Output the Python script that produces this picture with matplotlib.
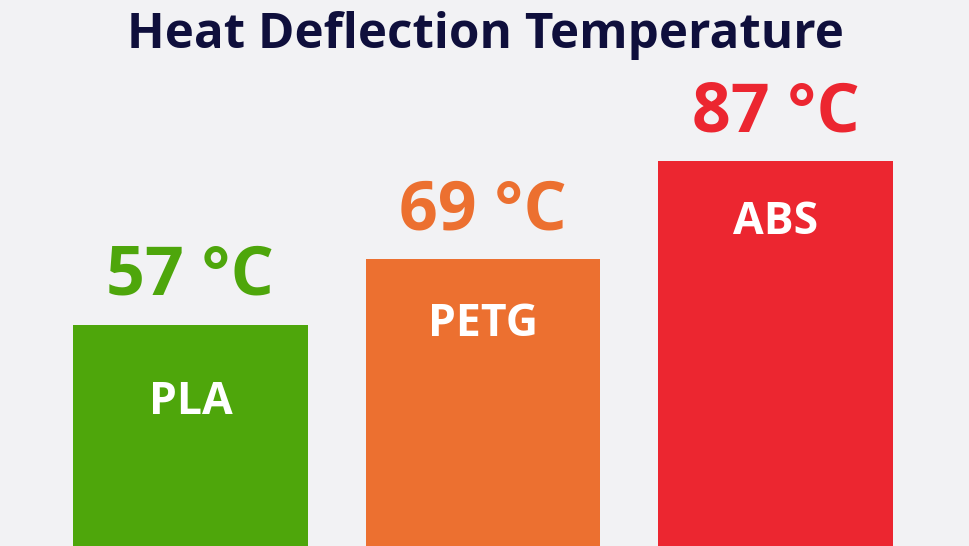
import matplotlib
matplotlib.use("Agg")
import matplotlib.pyplot as plt

materials = ["PLA", "PETG", "ABS"]
temps = [57, 69, 87]
value_labels = ["57 °C", "69 °C", "87 °C"]
colors = ["#4ea60b", "#ec7030", "#ec2630"]
title = "Heat Deflection Temperature"

# per-bar inside-label offsets below the bar top (points)
inside_offsets = [-64, -55, -52]

plt.rcParams['font.family'] = ['Open Sans', 'DejaVu Sans']
bg = "#f2f2f4"
fig = plt.figure(figsize=(9.7, 5.46), dpi=100, facecolor=bg)
ax = fig.add_axes([0, 0, 1, 1])
ax.set_facecolor(bg)

x = list(range(len(materials)))
ax.bar(x, temps, width=0.803, color=colors, bottom=0)
ax.set_xlim(-0.651, 2.665)
ax.set_ylim(16.4, 116.6)
ax.axis('off')

for xi, t, vl, c, m, off in zip(x, temps, value_labels, colors, materials, inside_offsets):
    ax.annotate(vl, (xi, t), xytext=(0, 21.5), textcoords='offset points',
                ha='center', va='baseline', fontsize=49, fontweight='bold', color=c)
    ax.annotate(m, (xi, t), xytext=(0, off), textcoords='offset points',
                ha='center', va='baseline', fontsize=32, fontweight='bold', color='white')

fig.text(0.5, 1 - 48 / 546, title, ha='center', va='baseline',
         fontsize=35.6, fontweight='bold', color='#0f0f3c')

fig.savefig("out.png", dpi=100, facecolor=bg)
